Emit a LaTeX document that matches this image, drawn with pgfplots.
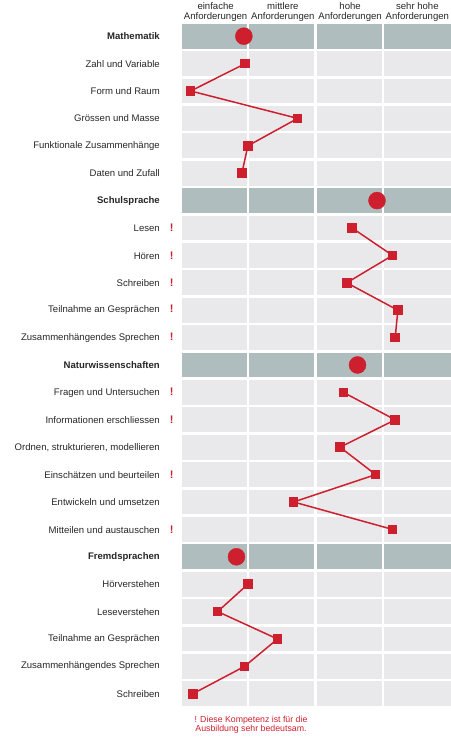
\documentclass[border=0pt]{standalone}
\usepackage{fontspec}
\setmainfont{Liberation Sans}
\usepackage{pgfplots}
\pgfplotsset{compat=1.18}
\definecolor{hdr}{HTML}{B0BDBE}
\definecolor{cellc}{HTML}{E9E9EC}
\definecolor{myred}{HTML}{CE1F2E}
\newcommand\lb[1]{#1\makebox[22bp][l]{}}
\newcommand\ex[1]{#1\makebox[22bp][l]{\hspace{10bp}\textcolor{myred}{\fontsize{11}{11}\selectfont\textbf{!}}}}
\newcommand\hd[1]{\textbf{#1}\makebox[22bp][l]{}}
\pgfplotsset{seg/.style={myred, line width=1.5bp, mark=square*, mark size=4bp, mark options={solid, fill=myred}}}
\begin{document}
\begin{tikzpicture}
\begin{axis}[
  at={(182bp,29.5bp)}, anchor=south west,
  scale only axis, width=269bp, height=685bp,
  xmin=0, xmax=4, ymin=0.5, ymax=25.5,
  axis line style={draw=none}, major tick length=0pt,
  xtick={0.5,1.5,2.5,3.5},
  xticklabels={{einfache\\Anforderungen},{mittlere\\Anforderungen},{hohe\\Anforderungen},{sehr hohe\\Anforderungen}},
  xticklabel pos=right,
  ytick={1,...,25},
  yticklabels={
    \lb{Schreiben},\lb{Zusammenhängendes Sprechen},\lb{Teilnahme an Gesprächen},\lb{Leseverstehen},\lb{Hörverstehen},\hd{Fremdsprachen},
    \ex{Mitteilen und austauschen},\lb{Entwickeln und umsetzen},\ex{Einschätzen und beurteilen},\lb{Ordnen, strukturieren, modellieren},\ex{Informationen erschliessen},\ex{Fragen und Untersuchen},\hd{Naturwissenschaften},
    \ex{Zusammenhängendes Sprechen},\ex{Teilnahme an Gesprächen},\ex{Schreiben},\ex{Hören},\ex{Lesen},\hd{Schulsprache},
    \lb{Daten und Zufall},\lb{Funktionale Zusammenhänge},\lb{Grössen und Masse},\lb{Form und Raum},\lb{Zahl und Variable},\hd{Mathematik}},
  ticklabel style={font=\fontsize{9.6}{10.2}\selectfont, inner sep=0pt, text=black!85},
  xticklabel style={align=center, yshift=0.5bp},
  clip=false,
]
\pgfplotsinvokeforeach{1,...,25}{
  \fill[cellc] (axis cs:0,{#1-0.45}) rectangle (axis cs:0.97,{#1+0.45});
  \fill[cellc] (axis cs:1,{#1-0.45}) rectangle (axis cs:1.97,{#1+0.45});
  \fill[cellc] (axis cs:2,{#1-0.45}) rectangle (axis cs:2.97,{#1+0.45});
  \fill[cellc] (axis cs:3,{#1-0.45}) rectangle (axis cs:4,{#1+0.45});
}
\pgfplotsinvokeforeach{25,19,13,6}{
  \fill[hdr] (axis cs:0,{#1-0.45}) rectangle (axis cs:0.97,{#1+0.45});
  \fill[hdr] (axis cs:1,{#1-0.45}) rectangle (axis cs:1.97,{#1+0.45});
  \fill[hdr] (axis cs:2,{#1-0.45}) rectangle (axis cs:2.97,{#1+0.45});
  \fill[hdr] (axis cs:3,{#1-0.45}) rectangle (axis cs:4,{#1+0.45});
}
\addplot[seg] coordinates {(0.94,24) (0.13,23) (1.72,22) (0.98,21) (0.89,20)};
\addplot[seg] coordinates {(2.53,18) (3.13,17) (2.45,16) (3.21,15) (3.17,14)};
\addplot[seg] coordinates {(2.40,12) (3.17,11) (2.35,10) (2.88,9) (1.66,8) (3.13,7)};
\addplot[seg] coordinates {(0.98,5) (0.53,4) (1.42,3) (0.93,2) (0.16,1)};
\addplot[only marks, mark=*, mark size=8.5bp, myred, mark options={fill=myred}] coordinates {(0.92,25) (2.90,19) (2.61,13) (0.81,6)};
\end{axis}
\node[align=center, text=myred, font=\fontsize{8.8}{9}\selectfont, inner sep=0pt] at (251bp,12.5bp) {! Diese Kompetenz ist für die\\Ausbildung sehr bedeutsam.};
\pgfresetboundingbox
\path[use as bounding box] (0,0) rectangle (451bp,737bp);
\end{tikzpicture}
\end{document}
